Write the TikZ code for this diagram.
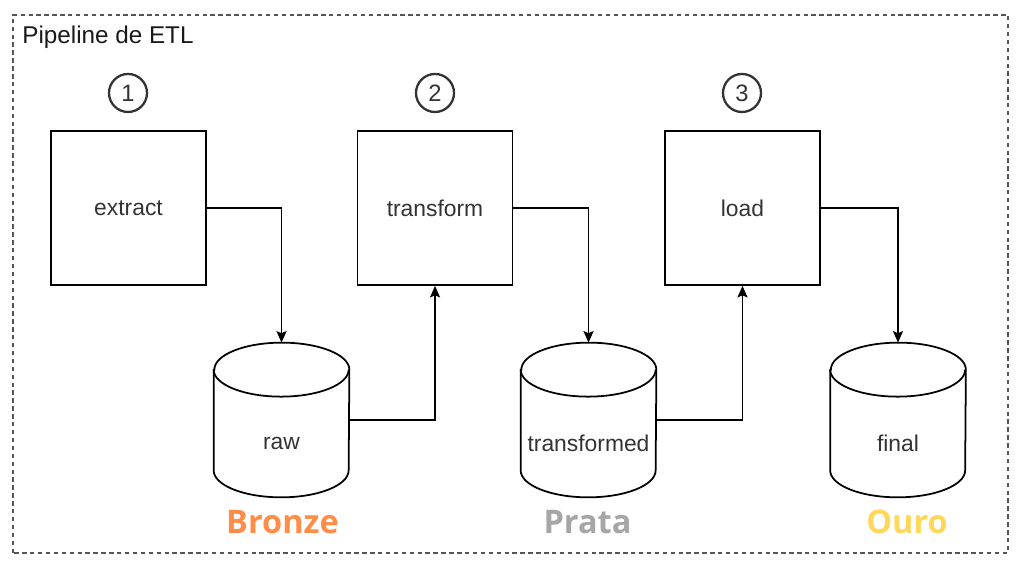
\documentclass[tikz,border=0pt]{standalone}
\usepackage{fontspec}
\setmainfont{Liberation Sans}
\newfontfamily\layerfont{Open Sans}
\usetikzlibrary{arrows.meta, calc, positioning}
\definecolor{etlBronze}{HTML}{FF8C47}
\definecolor{etlPrata}{HTML}{A6A6A6}
\definecolor{etlOuro}{HTML}{FFD75A}
\definecolor{etlText}{HTML}{333333}
\definecolor{etlFrame}{HTML}{555555}
\tikzset{
  flowarrow/.style = {-{Stealth[length=2.3mm, width=2mm, inset=0.4mm]}, line width=0.9pt, black},
  stepbox/.style   = {draw=black, line width=1pt, fill=white, minimum width=3.1cm,
                      minimum height=3.08cm, font=\fontsize{13}{15}\selectfont, text=etlText},
  dbnode/.style    = {minimum width=2.7cm, minimum height=3.08cm, inner sep=0pt},
  dbline/.style    = {draw=black, line width=1pt, fill=white},
  dbtxt/.style     = {font=\fontsize{13}{15}\selectfont, text=etlText, inner sep=0pt},
  stepnum/.style   = {circle, draw=etlText, line width=1.3pt, minimum size=0.76cm,
                      inner sep=0pt, font=\fontsize{13.5}{15}\selectfont, text=etlText},
  layerlbl/.style  = {font=\layerfont\bfseries\fontsize{18.5}{20}\selectfont},
  frame/.style     = {draw=etlFrame, line width=1.1pt, dash pattern=on 2.5pt off 2pt},
}
\newcommand{\dbshape}[1]{%
  \draw[dbline] ([yshift=-0.54cm]#1.north west) -- ([yshift=0.54cm]#1.south west)
    arc[start angle=180, end angle=360, x radius=1.35cm, y radius=0.54cm]
    -- ([yshift=-0.54cm]#1.north east)
    arc[start angle=0, end angle=180, x radius=1.35cm, y radius=0.54cm] -- cycle;
  \draw[dbline, fill=none] ([yshift=-0.54cm]#1.north west)
    arc[start angle=180, end angle=360, x radius=1.35cm, y radius=0.54cm];
}
\begin{document}
\begin{tikzpicture}
  \useasboundingbox (0,0) rectangle (20.42,11.3);
  \draw[frame] (0.26,0.24) rectangle (20.16,11.0);
  \node[anchor=west, inner sep=0pt, font=\fontsize{13.8}{15}\selectfont, text=black!90]
    (title) at (0.44,10.56) {Pipeline de ETL};

  \node[stepnum] (num1) at (2.56,9.44) {1};
  \node[stepnum] (num2) at (8.70,9.44) {2};
  \node[stepnum] (num3) at (14.84,9.44) {3};

  \node[stepbox] (extract)   at (2.57,7.14)  {extract};
  \node[stepbox] (transform) at (8.70,7.14)  {transform};
  \node[stepbox] (load)      at (14.85,7.14) {load};

  \node[dbnode] (raw)         at (5.63,2.90)  {};
  \node[dbnode] (transformed) at (11.77,2.90) {};
  \node[dbnode] (final)       at (17.96,2.90) {};
  \dbshape{raw}
  \dbshape{transformed}
  \dbshape{final}
  \node[dbtxt] (rawtxt)   at ([yshift=-0.46cm]raw.center)         {raw};
  \node[dbtxt] (transtxt) at ([yshift=-0.46cm]transformed.center) {transformed};
  \node[dbtxt] (finaltxt) at ([yshift=-0.46cm]final.center)       {final};

  \draw[flowarrow] (extract.east) -| (raw.north);
  \draw[flowarrow] (raw.east) -| (transform.south);
  \draw[flowarrow] (transform.east) -| (transformed.north);
  \draw[flowarrow] (transformed.east) -| (load.south);
  \draw[flowarrow] (load.east) -| (final.north);

  \node[layerlbl, text=etlBronze] (bronze) at (5.65,0.86)  {Bronze};
  \node[layerlbl, text=etlPrata]  (prata)  at (11.75,0.86) {Prata};
  \node[layerlbl, text=etlOuro]   (ouro)   at (18.14,0.86) {Ouro};
\end{tikzpicture}
\end{document}
